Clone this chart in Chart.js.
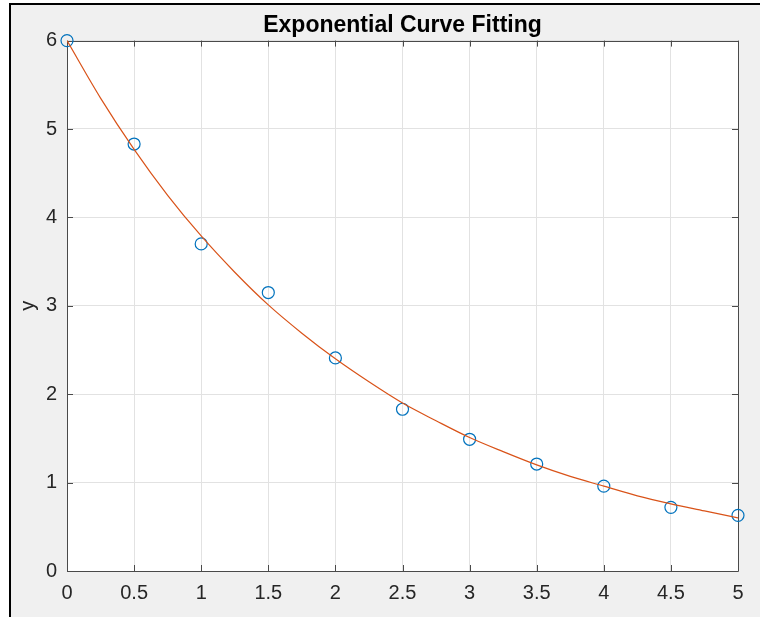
<!DOCTYPE html>
<html>
<head>
<meta charset="utf-8">
<script src="https://cdn.jsdelivr.net/npm/chart.js@4/dist/chart.umd.min.js"></script>
<style>
  html, body { margin: 0; padding: 0; background: #ffffff; }
  canvas { display: block; }
</style>
</head>
<body>
<canvas id="fit" width="760" height="617"></canvas>
<script>
// measured points
const dataX = [0, 0.5, 1, 1.5, 2, 2.5, 3, 3.5, 4, 4.5, 5];
const dataY = [6.00, 4.83, 3.70, 3.15, 2.41, 1.83, 1.49, 1.21, 0.96, 0.72, 0.63];

// fitted curve
const fitX = [0, 0.25, 0.5, 0.75, 1, 1.25, 1.5, 1.75, 2, 2.25, 2.5, 2.75, 3, 3.25, 3.5, 3.75, 4, 4.25, 4.5, 4.75, 5];
const fitY = [6.00, 5.35, 4.77, 4.25, 3.79, 3.38, 3.01, 2.69, 2.40, 2.14, 1.90, 1.70, 1.51, 1.35, 1.20, 1.07, 0.96, 0.85, 0.76, 0.68, 0.60];

const xTicks = [0, 0.5, 1, 1.5, 2, 2.5, 3, 3.5, 4, 4.5, 5];
const yTicks = [0, 1, 2, 3, 4, 5, 6];

const titleText = "Exponential Curve Fitting";
const yLabel = "y";

const fontFamily = "'Liberation Sans', Arial, Helvetica, sans-serif";
const axisColor = '#4a4a4a';

// figure background, frame and the white axes box
const figureBg = {
    id: 'figureBg',
    afterLayout(chart) {
        // centre the title over the axes, like matlab does
        const t = chart.titleBlock;
        if (t) {
            t.left = chart.chartArea.left;
            t.right = chart.chartArea.right;
            t.width = t.right - t.left;
        }
    },
    beforeDraw(chart) {
        const ctx = chart.ctx;
        const a = chart.chartArea;
        ctx.save();
        ctx.fillStyle = '#ffffff';
        ctx.fillRect(0, 0, chart.width, chart.height);
        ctx.fillStyle = '#f0f0f0';
        ctx.fillRect(9, 3, chart.width - 9, chart.height - 3);
        ctx.fillStyle = '#000000';
        ctx.fillRect(9, 3, chart.width - 9, 2);
        ctx.fillRect(9, 3, 2, chart.height - 3);
        ctx.fillStyle = '#ffffff';
        ctx.fillRect(a.left, a.top, a.right - a.left, a.bottom - a.top);
        ctx.restore();
    }
};

// box round the axes with ticks pointing inwards
const axesBox = {
    id: 'axesBox',
    beforeDatasetsDraw(chart) {
        const ctx = chart.ctx;
        const a = chart.chartArea;
        const xs = chart.scales.x;
        const ys = chart.scales.y;
        const len = 6;
        ctx.save();
        ctx.strokeStyle = axisColor;
        ctx.lineWidth = 1;
        ctx.beginPath();
        ctx.rect(Math.round(a.left) + 0.5, Math.round(a.top) + 0.5,
                 Math.round(a.right - a.left), Math.round(a.bottom - a.top));
        xTicks.forEach(v => {
            const px = Math.round(xs.getPixelForValue(v)) + 0.5;
            ctx.moveTo(px, a.bottom); ctx.lineTo(px, a.bottom - len);
            ctx.moveTo(px, a.top); ctx.lineTo(px, a.top + len);
        });
        yTicks.forEach(v => {
            const py = Math.round(ys.getPixelForValue(v)) + 0.5;
            ctx.moveTo(a.left, py); ctx.lineTo(a.left + len, py);
            ctx.moveTo(a.right, py); ctx.lineTo(a.right - len, py);
        });
        ctx.stroke();
        ctx.restore();
    }
};

const ctx = document.getElementById('fit').getContext('2d');

new Chart(ctx, {
    type: 'scatter',
    data: {
        datasets: [
            {
                type: 'line',
                label: 'fit',
                data: fitX.map((x, i) => ({ x: x, y: fitY[i] })),
                borderColor: '#D95319',
                borderWidth: 1.2,
                pointRadius: 0,
                fill: false,
                cubicInterpolationMode: 'monotone'
            },
            {
                label: 'data',
                data: dataX.map((x, i) => ({ x: x, y: dataY[i] })),
                borderColor: '#0072BD',
                backgroundColor: 'rgba(0,0,0,0)',
                borderWidth: 1.2,
                pointRadius: 6,
                pointStyle: 'circle',
                clip: false
            }
        ]
    },
    options: {
        responsive: false,
        animation: false,
        devicePixelRatio: 1,
        layout: {
            padding: { left: 0, right: 22, top: 0, bottom: 0 }
        },
        plugins: {
            legend: { display: false },
            tooltip: { enabled: false },
            title: {
                display: true,
                text: titleText,
                color: '#000000',
                font: { family: fontFamily, size: 23, weight: 'bold' },
                padding: { top: 12, bottom: 1 }
            }
        },
        scales: {
            x: {
                type: 'linear',
                min: 0,
                max: 5,
                afterBuildTicks: s => { s.ticks = xTicks.map(v => ({ value: v })); },
                afterFit: s => { s.height = 46; },
                grid: { color: '#e2e2e2', drawTicks: false },
                border: { display: false },
                ticks: {
                    color: '#262626',
                    padding: 10,
                    maxRotation: 0,
                    font: { family: fontFamily, size: 20 },
                    callback: v => String(v)
                }
            },
            y: {
                type: 'linear',
                min: 0,
                max: 6,
                afterBuildTicks: s => { s.ticks = yTicks.map(v => ({ value: v })); },
                afterFit: s => { s.width = 67; },
                grid: { color: '#e2e2e2', drawTicks: false },
                border: { display: false },
                title: {
                    display: true,
                    text: yLabel,
                    color: '#262626',
                    font: { family: fontFamily, size: 20 },
                    padding: { top: 16, bottom: 0 }
                },
                ticks: {
                    color: '#262626',
                    padding: 10,
                    font: { family: fontFamily, size: 20 },
                    callback: v => String(v)
                }
            }
        }
    },
    plugins: [figureBg, axesBox]
});
</script>
</body>
</html>
